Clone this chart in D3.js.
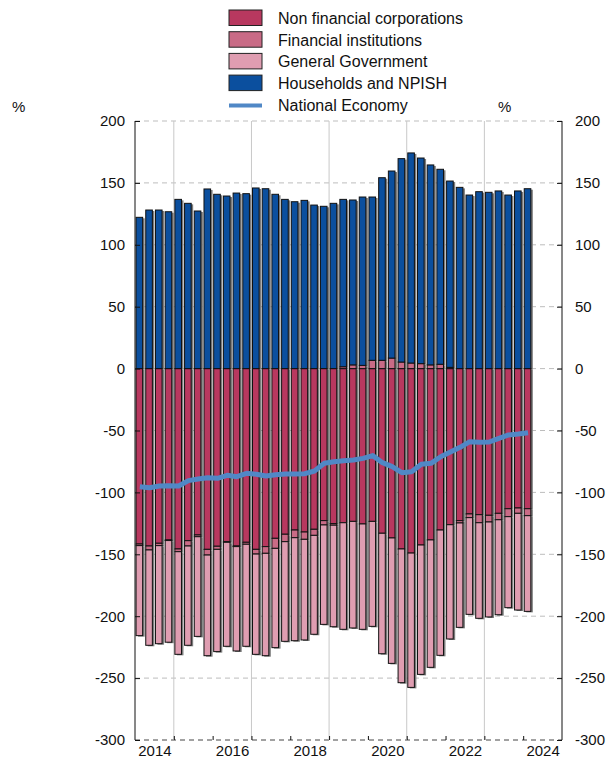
<!DOCTYPE html>
<html>
<head>
<meta charset="utf-8">
<script src="https://cdn.jsdelivr.net/npm/d3@7"></script>
<style>
body { margin: 0; background: #fff; }
text { font-family: "Liberation Sans", Arial, sans-serif; fill: #111; }
</style>
</head>
<body>
<svg width="610" height="758"></svg>
<script>

// Quarters shown (one bar each)
var quarters = ["2014Q1","2014Q2","2014Q3","2014Q4","2015Q1","2015Q2","2015Q3","2015Q4",
    "2016Q1","2016Q2","2016Q3","2016Q4","2017Q1","2017Q2","2017Q3","2017Q4",
    "2018Q1","2018Q2","2018Q3","2018Q4","2019Q1","2019Q2","2019Q3","2019Q4",
    "2020Q1","2020Q2","2020Q3","2020Q4","2021Q1","2021Q2","2021Q3","2021Q4",
    "2022Q1","2022Q2","2022Q3","2022Q4","2023Q1","2023Q2","2023Q3","2023Q4","2024Q1"];

// Sector balances, %
var nonFinancial = [-141.7,-143.3,-141.1,-138.4,-145.7,-139.0,-134.4,-146.0,-143.5,-139.8,-143.3,-140.3,-146.0,-143.8,-137.1,-133.8,-130.4,-132.0,-129.8,-122.8,-125.2,-124.5,-123.4,-125.5,-123.4,-133.0,-136.8,-145.7,-149.0,-142.5,-138.4,-130.4,-126.1,-122.8,-117.4,-118.0,-118.5,-116.9,-113.2,-112.6,-113.2];
var financial = [-1.3,-3.2,-1.9,-0.5,-2.2,-4.3,-1.4,-4.6,-2.5,-0.5,-0.5,-1.6,-3.8,-5.4,-8.1,-6.0,-6.2,-5.9,-4.9,-3.5,-1.3,1.5,3.0,2.6,6.7,6.7,8.5,5.3,4.5,4.0,3.0,3.5,1.0,-1.9,-3.0,-6.5,-5.4,-5.2,-6.4,-4.3,-5.6];
var government = [-72.7,-77.0,-79.2,-82.1,-82.9,-80.2,-80.5,-81.3,-82.6,-84.0,-84.3,-82.4,-81.0,-82.7,-80.2,-80.5,-83.2,-81.3,-79.9,-80.3,-82.0,-86.1,-86.1,-85.1,-84.8,-97.3,-101.3,-108.0,-108.5,-104.5,-102.9,-101.2,-92.3,-84.3,-78.1,-77.2,-76.7,-76.7,-73.5,-78.1,-77.3];
var households = [122.2,128.1,128.1,126.7,136.7,133.5,127.3,145.1,140.8,139.4,141.8,141.3,145.9,145.3,140.8,136.7,134.8,135.9,132.1,131.1,133.5,135.2,133.2,136.0,131.9,147.5,151.1,164.3,169.7,166.1,161.5,157.5,150.5,146.4,140.2,142.9,142.4,143.5,140.2,143.5,145.3];
var nationalEconomy = [-95.4,-96.2,-94.8,-94.6,-94.8,-90.5,-89.2,-88.1,-88.6,-86.2,-87.3,-84.6,-85.4,-86.8,-85.7,-85.1,-85.1,-84.9,-82.7,-76.5,-75.2,-74.4,-73.8,-72.5,-70.3,-76.0,-79.2,-84.1,-83.3,-77.3,-76.5,-71.2,-67.4,-63.6,-59.0,-59.5,-59.3,-56.3,-53.6,-52.8,-51.8];

var seriesNames = ["Non financial corporations", "Financial institutions", "General Government", "Households and NPISH"];
var lineName = "National Economy";
var yTicks = [-300, -250, -200, -150, -100, -50, 0, 50, 100, 150, 200];
var yearLabels = [2014, 2016, 2018, 2020, 2022, 2024];

var colors = ["#b8385f", "#c96b86", "#df9db1", "#0b4f9e"];
var lineColor = "#5088c6";

var svg = d3.select("svg"),
    pLeft = 135, pRight = 562, pTop = 121, pBottom = 740;

// quarter -> fractional year at bar centre
function qPos(q) { return +q.slice(0, 4) + (+q.slice(5) - 1) * 0.25 + 0.125; }

var x = d3.scaleLinear().domain([2014, 2025]).range([pLeft, pRight]);
var y = d3.scaleLinear().domain([-300, 200]).range([pBottom, pTop]);

var rows = quarters.map(function (q, i) {
    return { q: q, s0: nonFinancial[i], s1: financial[i], s2: government[i], s3: households[i] };
});
var stack = d3.stack().keys(["s0", "s1", "s2", "s3"]).offset(d3.stackOffsetDiverging);
var layers = stack(rows);

// grid
svg.append("g").selectAll("line").data(yTicks).enter().append("line")
    .attr("x1", pLeft).attr("x2", pRight)
    .attr("y1", function (d) { return y(d); }).attr("y2", function (d) { return y(d); })
    .attr("stroke", function (d) { return d === -300 ? "#444" : "#bdbdbd"; })
    .attr("stroke-dasharray", "5,4");
svg.append("g").selectAll("line").data([2015, 2017, 2019, 2021, 2023]).enter().append("line")
    .attr("x1", function (d) { return x(d); }).attr("x2", function (d) { return x(d); })
    .attr("y1", pTop).attr("y2", pBottom)
    .attr("stroke", "#c8c8c8");

// bars: shadow first, then fills
var bw = 6.6;
var segs = [];
layers.forEach(function (layer, k) {
    layer.forEach(function (d) {
        if (d[1] !== d[0]) segs.push({ k: k, q: d.data.q, y0: d[0], y1: d[1] });
    });
});
svg.append("g").selectAll("rect").data(segs).enter().append("rect")
    .attr("x", function (d) { return x(qPos(d.q)) - bw / 2 - 0.5 + 2; })
    .attr("y", function (d) { return y(d.y1) + 1; })
    .attr("width", bw)
    .attr("height", function (d) { return Math.abs(y(d.y0) - y(d.y1)); })
    .attr("fill", "#7c7c7c");
svg.append("g").selectAll("rect").data(segs).enter().append("rect")
    .attr("x", function (d) { return x(qPos(d.q)) - bw / 2 - 0.5; })
    .attr("y", function (d) { return y(d.y1); })
    .attr("width", bw)
    .attr("height", function (d) { return Math.abs(y(d.y0) - y(d.y1)); })
    .attr("fill", function (d) { return colors[d.k]; })
    .attr("stroke", "#111").attr("stroke-width", 1);

// national economy line
var line = d3.line()
    .x(function (d, i) { return x(qPos(quarters[i])); })
    .y(function (d) { return y(d); });
svg.append("path").datum(nationalEconomy)
    .attr("d", line)
    .attr("fill", "none").attr("stroke", lineColor)
    .attr("stroke-width", 5).attr("stroke-linejoin", "round");

// axes
var fmt = function (d) { return String(d); };
var yl = svg.append("g").attr("transform", "translate(" + pLeft + ",0)")
    .call(d3.axisLeft(y).tickValues(yTicks).tickSize(-5).tickPadding(10).tickFormat(fmt));
var yr = svg.append("g").attr("transform", "translate(" + pRight + ",0)")
    .call(d3.axisRight(y).tickValues(yTicks).tickSize(-5).tickPadding(13).tickFormat(fmt));
[yl, yr].forEach(function (g) {
    g.select(".domain").attr("d", "M0," + pTop + "V" + pBottom).attr("stroke", "#111");
    g.selectAll("text").style("font-size", "15px").attr("fill", "#111");
    g.selectAll(".tick line").attr("stroke", "#111");
});

var xt = svg.append("g").attr("transform", "translate(0," + pBottom + ")")
    .call(d3.axisBottom(x).tickValues(d3.range(2015, 2025)).tickSize(-4).tickFormat(""));
xt.select(".domain").remove();
xt.selectAll(".tick line").attr("stroke", "#111");
var xl = svg.append("g").attr("transform", "translate(0," + pBottom + ")")
    .call(d3.axisBottom(x).tickValues(yearLabels.map(function (d) { return d + 0.5; }))
        .tickSize(0).tickPadding(5).tickFormat(function (d) { return Math.floor(d); }));
xl.select(".domain").remove();
xl.selectAll("text").style("font-size", "15px").attr("fill", "#111");

svg.append("text").attr("x", 12).attr("y", 112).style("font-size", "15px").text("%");
svg.append("text").attr("x", 498).attr("y", 112).style("font-size", "15px").text("%");

// legend
var lg = svg.append("g");
seriesNames.forEach(function (name, i) {
    var yy = 10 + i * 21.7;
    lg.append("rect").attr("x", 229).attr("y", yy).attr("width", 33).attr("height", 15.5)
        .attr("fill", colors[i]).attr("stroke", "#222").attr("stroke-width", 1);
    lg.append("text").attr("x", 278).attr("y", yy + 14).style("font-size", "16px").text(name);
});
lg.append("line").attr("x1", 229).attr("x2", 262).attr("y1", 105.5).attr("y2", 105.5)
    .attr("stroke", lineColor).attr("stroke-width", 4);
lg.append("text").attr("x", 278).attr("y", 110.8).style("font-size", "16px").text(lineName);

</script>
</body>
</html>
